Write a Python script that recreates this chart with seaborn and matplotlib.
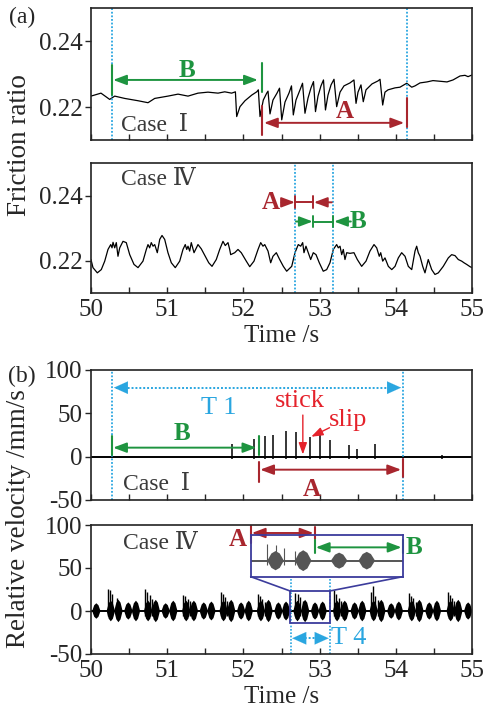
import numpy as np
import pandas as pd
import matplotlib
matplotlib.use("Agg")
import matplotlib.pyplot as plt
import seaborn as sns
from matplotlib.ticker import MultipleLocator

# ---------------- data ----------------
# (a) Case I friction ratio
f1_t = [50.000, 50.131, 50.197, 50.245, 50.311, 50.442, 50.617, 50.748, 50.836, 51.010,
        51.142, 51.273, 51.404, 51.535, 51.667, 51.755, 51.846, 51.895, 51.912, 51.955,
        52.021, 52.109, 52.175, 52.196, 52.218, 52.261, 52.306, 52.323, 52.349, 52.388,
        52.441, 52.474, 52.503, 52.546, 52.598, 52.631, 52.655, 52.690, 52.743, 52.776,
        52.808, 52.848, 52.887, 52.920, 52.946, 52.979, 53.018, 53.051, 53.077, 53.110,
        53.150, 53.189, 53.224, 53.268, 53.320, 53.399, 53.451, 53.478, 53.504, 53.543,
        53.573, 53.609, 53.688, 53.766, 53.793, 53.828, 53.858, 53.898, 53.990, 54.055,
        54.143, 54.209, 54.252, 54.318, 54.409, 54.488, 54.580, 54.672, 54.751, 54.843,
        54.908, 54.948, 55.000]
f1_v = [0.2233, 0.2242, 0.2231, 0.2223, 0.2233, 0.2226, 0.2219, 0.2213, 0.2226, 0.2233,
        0.2239, 0.2233, 0.2242, 0.2245, 0.2242, 0.2246, 0.2242, 0.2246, 0.2171, 0.2201,
        0.2219, 0.2236, 0.2246, 0.2252, 0.2171, 0.2221, 0.2242, 0.2248, 0.2179, 0.2221,
        0.2242, 0.2257, 0.2161, 0.2215, 0.2242, 0.2264, 0.2176, 0.2221, 0.2252, 0.2272,
        0.2181, 0.2227, 0.2258, 0.2277, 0.2186, 0.2233, 0.2264, 0.2282, 0.2191, 0.2236,
        0.2267, 0.2284, 0.2201, 0.2245, 0.2264, 0.2273, 0.2282, 0.2211, 0.2245, 0.2267,
        0.2216, 0.2252, 0.2270, 0.2279, 0.2284, 0.2206, 0.2245, 0.2252, 0.2258, 0.2260,
        0.2272, 0.2260, 0.2264, 0.2273, 0.2276, 0.2280, 0.2278, 0.2276, 0.2282, 0.2294,
        0.2296, 0.2292, 0.2297]

# (a) Case IV friction ratio
f4_t = [50.000, 50.026, 50.083, 50.135, 50.180, 50.223, 50.259, 50.276, 50.289, 50.311,
        50.332, 50.354, 50.377, 50.420, 50.463, 50.508, 50.564, 50.617, 50.682, 50.726,
        50.748, 50.770, 50.791, 50.814, 50.836, 50.870, 50.902, 50.932, 50.967, 51.010,
        51.054, 51.106, 51.164, 51.207, 51.237, 51.256, 51.273, 51.295, 51.316, 51.352,
        51.404, 51.447, 51.500, 51.545, 51.588, 51.644, 51.689, 51.732, 51.762, 51.798,
        51.820, 51.833, 51.886, 51.929, 51.972, 52.038, 52.083, 52.139, 52.192, 52.227,
        52.257, 52.280, 52.323, 52.358, 52.388, 52.432, 52.476, 52.524, 52.568, 52.634,
        52.677, 52.720, 52.752, 52.778, 52.795, 52.821, 52.852, 52.883, 52.917, 52.953,
        52.996, 53.048, 53.093, 53.136, 53.180, 53.224, 53.245, 53.268, 53.290, 53.311,
        53.333, 53.356, 53.399, 53.451, 53.495, 53.552, 53.609, 53.661, 53.714, 53.749,
        53.783, 53.802, 53.828, 53.858, 53.902, 53.947, 53.990, 54.033, 54.077, 54.121,
        54.164, 54.209, 54.252, 54.274, 54.295, 54.318, 54.353, 54.383, 54.426, 54.471,
        54.514, 54.558, 54.623, 54.689, 54.733, 54.777, 54.820, 54.865, 54.895, 54.930,
        54.974, 55.000]
f4_v = [0.2203, 0.2178, 0.2162, 0.2172, 0.2198, 0.2234, 0.2249, 0.2239, 0.2256, 0.2239,
        0.2255, 0.2213, 0.2239, 0.2259, 0.2255, 0.2218, 0.2188, 0.2178, 0.2198, 0.2234,
        0.2249, 0.2239, 0.2255, 0.2244, 0.2249, 0.2224, 0.2265, 0.2277, 0.2265, 0.2224,
        0.2193, 0.2178, 0.2198, 0.2234, 0.2249, 0.2234, 0.2244, 0.2229, 0.2255, 0.2224,
        0.2249, 0.2236, 0.2213, 0.2193, 0.2182, 0.2203, 0.2234, 0.2259, 0.2246, 0.2255,
        0.2234, 0.2218, 0.2224, 0.2234, 0.2224, 0.2198, 0.2181, 0.2198, 0.2234, 0.2255,
        0.2244, 0.2249, 0.2229, 0.2193, 0.2213, 0.2224, 0.2203, 0.2182, 0.2167, 0.2182,
        0.2224, 0.2249, 0.2244, 0.2255, 0.2224, 0.2244, 0.2224, 0.2203, 0.2224, 0.2218,
        0.2193, 0.2167, 0.2172, 0.2193, 0.2234, 0.2249, 0.2239, 0.2244, 0.2218, 0.2234,
        0.2203, 0.2224, 0.2222, 0.2224, 0.2203, 0.2182, 0.2198, 0.2229, 0.2249, 0.2239,
        0.2213, 0.2224, 0.2198, 0.2208, 0.2182, 0.2172, 0.2182, 0.2208, 0.2224, 0.2213,
        0.2182, 0.2172, 0.2229, 0.2244, 0.2224, 0.2213, 0.2182, 0.2162, 0.2203, 0.2172,
        0.2157, 0.2162, 0.2182, 0.2208, 0.2218, 0.2215, 0.2203, 0.2198, 0.2193, 0.2188,
        0.2181, 0.2178]

# (b) Case I relative velocity: baseline and stick-slip spikes
base_t = [50.0, 55.0]
base_v = [0.0, 0.0]
s1_t = [51.846, 52.139, 52.290, 52.395, 52.563, 52.684, 52.869, 53.009, 53.136,
        53.390, 53.491, 53.727, 54.600]
s1_h = [14.6, 20.8, 24.2, 25.4, 29.2, 28.0, 22.3, 27.3, 18.8, 13.0, 9.2, 14.3, 2.0]

# (b) Case IV relative velocity: oscillation bursts and spikes
b4_t = [50.07, 50.26, 50.36, 50.49, 50.59, 50.75, 50.85, 50.98, 51.08, 51.25,
        51.35, 51.48, 51.58, 51.74, 51.84, 51.97, 52.07, 52.23, 52.33, 52.46,
        52.56, 52.71, 52.81, 52.94, 53.04, 53.23, 53.33, 53.46, 53.56, 53.71,
        53.81, 53.94, 54.04, 54.21, 54.31, 54.44, 54.54, 54.72, 54.82, 54.95]
b4_a = [9, 12, 13, 10, 12, 12, 13, 9, 12, 12,
        12, 10, 11, 12, 13, 10, 12, 12, 13, 10,
        11, 12, 13, 10, 11, 12, 12, 10, 12, 12,
        13, 9, 11, 12, 13, 10, 12, 12, 13, 10]
s4_t = [50.22, 50.25, 50.28, 50.34, 50.71, 50.74, 50.77, 50.80, 51.21, 51.24,
        51.27, 51.30, 51.70, 51.73, 51.76, 51.79, 52.19, 52.22, 52.25, 52.29,
        52.68, 52.71, 52.74, 52.78, 53.19, 53.22, 53.25, 53.28, 53.67, 53.70,
        53.73, 53.76, 54.17, 54.20, 54.23, 54.26, 54.68, 54.71, 54.74, 54.77]
s4_h = [26, 24, 20, 15, 26, 22, 19, 14, 19, 17,
        14, 12, 22, 20, 16, 12, 20, 18, 14, 10,
        21, 20, 16, 12, 25, 20, 15, 12, 22, 29,
        18, 13, 21, 18, 15, 11, 22, 19, 15, 12]

x_ticks = [50, 51, 52, 53, 54, 55]
fr_ticks = [0.22, 0.24]
fr_labels = ["0.22", "0.24"]
v_ticks = [-50, 0, 50, 100]
v_labels = ["-50", "0", "50", "100"]

# ---------------- style ----------------
sns.set_style("ticks")
plt.rcParams['font.family'] = ['Liberation Serif', 'DejaVu Serif', 'Noto Sans CJK SC']
FS_TICK = 18

GREEN = '#1E9440'
RED = '#A8262E'
RED2 = '#E5222B'
BLUE = '#2AA6E0'
NAVY = '#3C3C9C'
CASEC = '#3a3a3a'

fig = plt.figure(figsize=(4.88, 7.07), dpi=100)
L, W = 91 / 488, 381 / 488


def pos(top, bot):
    return [L, 1 - bot / 707, W, (bot - top) / 707]


ax1 = fig.add_axes(pos(8, 140))
ax2 = fig.add_axes(pos(163, 293))
ax3 = fig.add_axes(pos(370, 500))
ax4 = fig.add_axes(pos(525, 654))

for ax in (ax1, ax2, ax3, ax4):
    ax.set_xlim(50, 55)
    ax.set_xticks(x_ticks)
    ax.xaxis.set_minor_locator(MultipleLocator(0.5))
    ax.tick_params(axis='x', which='both', direction='in', length=4, width=1,
                   labelsize=FS_TICK, pad=4)
    ax.tick_params(axis='y', which='both', direction='out', length=4, width=1,
                   labelsize=FS_TICK, pad=2)
    for s in ax.spines.values():
        s.set_linewidth(1.2)
        s.set_color('#222222')
    ax.set_xlabel('')
    ax.set_ylabel('')

for ax in (ax1, ax2):
    ax.set_ylim(0.21, 0.25)
    ax.set_yticks(fr_ticks)
    ax.set_yticklabels(fr_labels)
for ax in (ax3, ax4):
    ax.set_ylim(-50, 100)
    ax.set_yticks(v_ticks)
    ax.set_yticklabels(v_labels)
for ax in (ax1, ax3):
    ax.set_xticklabels([])

# ---- panel (a) case I ----
sns.lineplot(x=f1_t, y=f1_v, ax=ax1, color='black', lw=0.9, estimator=None, sort=False)
for xv in (50.276, 54.143):
    ax1.axvline(xv, color=BLUE, lw=1.3, ls=(0, (1, 1)))
ax1.plot([50.276, 50.276], [0.2236, 0.2327], color=GREEN, lw=1.5)
ax1.plot([52.244, 52.244], [0.2245, 0.2333], color=GREEN, lw=1.5)
ax1.plot([52.244, 52.244], [0.2115, 0.2203], color=RED, lw=1.5)
ax1.plot([54.143, 54.143], [0.2139, 0.2227], color=RED, lw=1.5)
arrow2 = dict(arrowstyle='<|-|>,head_length=0.8,head_width=0.3', lw=1.4,
              shrinkA=0, shrinkB=0, mutation_scale=10)
ax1.annotate('', xy=(52.19, 0.2282), xytext=(50.29, 0.2282),
             arrowprops=dict(color=GREEN, **arrow2))
ax1.annotate('', xy=(54.11, 0.2152), xytext=(52.27, 0.2152),
             arrowprops=dict(color=RED, **arrow2))
ax1.text(51.26, 0.2312, 'B', color=GREEN, fontsize=18, ha='center', va='center', fontweight='bold')
ax1.text(53.33, 0.2185, 'A', color=RED, fontsize=18, ha='center', va='center', fontweight='bold')
ax1.text(50.40, 0.2143, 'Case  Ⅰ', color=CASEC, fontsize=17, ha='left', va='center')

# ---- panel (a) case IV ----
sns.lineplot(x=f4_t, y=f4_v, ax=ax2, color='black', lw=0.9, estimator=None, sort=False)
for xv in (52.677, 53.172):
    ax2.axvline(xv, color=BLUE, lw=1.3, ls=(0, (1, 1)))
arrow1 = dict(arrowstyle='-|>,head_length=0.8,head_width=0.3', lw=1.4,
              shrinkA=0, shrinkB=0, mutation_scale=10)
ya, yb = 0.2379, 0.2320
ax2.annotate('', xy=(52.677, ya), xytext=(52.50, ya), arrowprops=dict(color=RED, **arrow1))
ax2.plot([52.677, 52.913], [ya, ya], color=RED, lw=1.4)
ax2.plot([52.913, 52.913], [ya - 0.0018, ya + 0.0018], color=RED, lw=1.4)
ax2.plot([52.677, 52.677], [ya - 0.0018, ya + 0.0018], color=RED, lw=1.4)
ax2.annotate('', xy=(52.925, ya), xytext=(53.16, ya), arrowprops=dict(color=RED, **arrow1))
ax2.text(52.36, ya, 'A', color=RED, fontsize=18, ha='center', va='center', fontweight='bold')
ax2.annotate('', xy=(52.91, yb), xytext=(52.69, yb), arrowprops=dict(color=GREEN, **arrow1))
ax2.plot([52.913, 53.176], [yb, yb], color=GREEN, lw=1.4)
ax2.plot([52.913, 52.913], [yb - 0.0018, yb + 0.0018], color=GREEN, lw=1.4)
ax2.plot([53.176, 53.176], [yb - 0.0018, yb + 0.0018], color=GREEN, lw=1.4)
ax2.annotate('', xy=(53.19, yb), xytext=(53.41, yb), arrowprops=dict(color=GREEN, **arrow1))
ax2.text(53.50, yb, 'B', color=GREEN, fontsize=18, ha='center', va='center', fontweight='bold')
ax2.text(50.40, 0.2449, 'Case Ⅳ', color=CASEC, fontsize=17, ha='left', va='center')

# ---- panel (b) case I ----
sns.lineplot(x=base_t, y=base_v, ax=ax3, color='black', lw=1.4, estimator=None)
ax3.vlines(s1_t, -3, s1_h, color='black', lw=1.1)
for xv in (50.276, 54.09):
    ax3.axvline(xv, color=BLUE, lw=1.3, ls=(0, (1, 1)))
ax3.plot([50.33, 54.04], [79.6, 79.6], color=BLUE, lw=1.4, ls=(0, (1, 1)))
arrowT = dict(arrowstyle='-|>,head_length=1.0,head_width=0.45', lw=0.1,
              shrinkA=0, shrinkB=0, mutation_scale=10, color=BLUE)
ax3.annotate('', xy=(50.30, 79.6), xytext=(50.45, 79.6), arrowprops=arrowT)
ax3.annotate('', xy=(54.07, 79.6), xytext=(53.92, 79.6), arrowprops=arrowT)
ax3.text(51.67, 56, 'T 1', color=BLUE, fontsize=19, ha='center', va='center')
ax3.plot([50.276, 50.276], [2.3, 24.2], color=GREEN, lw=1.5)
ax3.plot([52.205, 52.205], [2.3, 24.2], color=GREEN, lw=1.5)
ax3.annotate('', xy=(52.17, 10.4), xytext=(50.29, 10.4), arrowprops=dict(color=GREEN, **arrow2))
ax3.text(51.20, 27, 'B', color=GREEN, fontsize=18, ha='center', va='center', fontweight='bold')
ax3.plot([52.205, 52.205], [-28.8, -5.8], color=RED, lw=1.5)
ax3.plot([54.09, 54.09], [-23, -2.3], color=RED, lw=1.5)
ax3.annotate('', xy=(54.07, -15), xytext=(52.22, -15), arrowprops=dict(color=RED, **arrow2))
ax3.text(52.90, -38, 'A', color=RED, fontsize=18, ha='center', va='center', fontweight='bold')
ax3.text(52.74, 64, 'stick', color=RED2, fontsize=19, ha='center', va='center')
ax3.text(53.38, 42, 'slip', color=RED2, fontsize=19, ha='center', va='center')
ax3.annotate('', xy=(52.78, 2.5), xytext=(52.78, 48),
             arrowprops=dict(arrowstyle='-|>,head_length=0.7,head_width=0.25', lw=1.0,
                             color=RED2, shrinkA=0, shrinkB=0, mutation_scale=10))
ax3.annotate('', xy=(52.89, 23), xytext=(53.13, 33.4),
             arrowprops=dict(arrowstyle='-|>,head_length=0.7,head_width=0.25', lw=1.0,
                             color=RED2, shrinkA=0, shrinkB=0, mutation_scale=10))
ax3.text(50.42, -32, 'Case  Ⅰ', color=CASEC, fontsize=17, ha='left', va='center')


# ---- panel (b) case IV ----
def draw_velocity(ax, color, hw, slw):
    sns.lineplot(x=base_t, y=base_v, ax=ax, color=color, lw=1.4, estimator=None)
    for c, a in zip(b4_t, b4_a):
        ax.fill([c - hw, c - hw / 2, c, c + hw / 2, c + hw, c + hw / 2, c, c - hw / 2],
                [0, 0.75 * a, a, 0.75 * a, 0, -0.75 * a, -a, -0.75 * a], color=color, lw=0)
    ax.vlines(s4_t, -6, s4_h, color=color, lw=slw)
    ax.set_xlabel('')
    ax.set_ylabel('')


draw_velocity(ax4, 'black', 0.055, 1.0)
ax4.add_patch(plt.Rectangle((52.612, -13.6), 0.524, 36.9, fill=False, ec=NAVY, lw=1.3, zorder=5))
ax4.plot([52.096, 52.612], [39.9, 23.3], color=NAVY, lw=1.2)
ax4.plot([54.091, 53.136], [39.9, 23.3], color=NAVY, lw=1.2)
for xv in (52.625, 53.136):
    ax4.plot([xv, xv], [-50, 39.9], color=BLUE, lw=1.2, ls=(0, (1, 1)))
ax4.plot([52.70, 53.07], [-31.7, -31.7], color=BLUE, lw=1.4, ls=(0, (1, 1)))
ax4.annotate('', xy=(52.64, -31.7), xytext=(52.78, -31.7), arrowprops=arrowT)
ax4.annotate('', xy=(53.12, -31.7), xytext=(52.98, -31.7), arrowprops=arrowT)
ax4.text(53.38, -31.7, 'T 4', color=BLUE, fontsize=19, ha='center', va='center')
ax4.plot([52.096, 52.096], [79, 99], color=RED, lw=1.5)
ax4.plot([52.935, 52.935], [84, 98], color=RED, lw=1.5)
ax4.annotate('', xy=(52.92, 90.7), xytext=(52.11, 90.7), arrowprops=dict(color=RED, **arrow2))
ax4.text(51.92, 82.6, 'A', color=RED, fontsize=18, ha='center', va='center', fontweight='bold')
ax4.plot([52.935, 52.935], [67.4, 82.6], color=GREEN, lw=1.5)
ax4.plot([54.091, 54.091], [67.4, 82.6], color=GREEN, lw=1.5)
ax4.annotate('', xy=(54.075, 74), xytext=(52.95, 74), arrowprops=dict(color=GREEN, **arrow2))
ax4.text(54.24, 74, 'B', color=GREEN, fontsize=18, ha='center', va='center', fontweight='bold')
ax4.text(50.42, 78, 'Case Ⅳ', color=CASEC, fontsize=17, ha='left', va='center')

for ax in (ax2, ax4):
    ax.set_xticklabels([str(v) for v in x_ticks])
    ax.set_xlabel('Time /s', fontsize=18, labelpad=3)

# inset
ins = fig.add_axes([250.7 / 488, 1 - 576.7 / 707, 152 / 488, 41.7 / 707])
ins.patch.set_alpha(0)
draw_velocity(ins, '#555555', 0.03, 0.8)
ins.set_xlim(52.62, 53.17)
ins.set_ylim(-20, 32)
ins.set_xticks([])
ins.set_yticks([])
for s in ins.spines.values():
    s.set_color(NAVY)
    s.set_linewidth(1.3)

# labels
fig.text(20 / 488, 1 - 145 / 707, 'Friction ratio', rotation=90, fontsize=19.5,
         ha='center', va='center')
fig.text(19 / 488, 1 - 519 / 707, 'Relative velocity /mm/s', rotation=90, fontsize=19.5,
         ha='center', va='center')
fig.text(22 / 488, 1 - 17 / 707, '(a)', fontsize=17, ha='center', va='center')
fig.text(22 / 488, 1 - 376 / 707, '(b)', fontsize=17, ha='center', va='center')

fig.savefig('out.png', dpi=100)
